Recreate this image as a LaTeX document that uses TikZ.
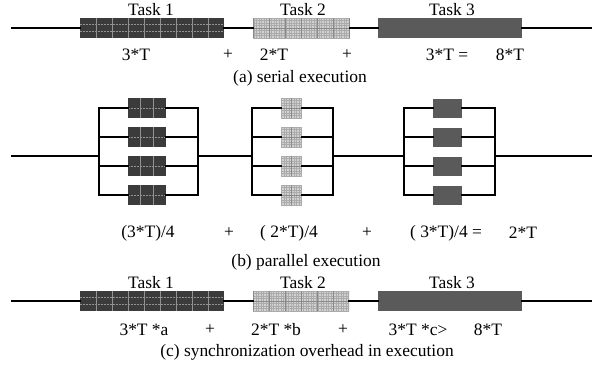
\documentclass[tikz,border=0pt]{standalone}
\usepackage{fontspec}
\setmainfont{Liberation Serif}
\usetikzlibrary{calc}

\definecolor{taskdark}{HTML}{3B3B3B}
\definecolor{gridlight}{HTML}{929292}
\definecolor{tasklight}{HTML}{D2D2D2}
\definecolor{finegrid}{HTML}{ABABAB}
\definecolor{taskmid}{HTML}{5A5A5A}

\tikzset{
  wire/.style={line width=2bp,line cap=rect,line join=miter},
  lbl/.style={inner sep=0pt,font=\fontsize{17.5}{20}\selectfont},
  taskbox/.style={inner sep=0pt,minimum height=20bp,draw=none},
  % dark box: #1 vertical and #2 horizontal dividers
  darkbox/.style 2 args={taskbox,fill=taskdark,path picture={
    \foreach \k in {1,...,#1}
      \draw[line width=0.6bp,gridlight]
        ($(path picture bounding box.north west)!{\k/(#1+1)}!(path picture bounding box.north east)$) --
        ($(path picture bounding box.south west)!{\k/(#1+1)}!(path picture bounding box.south east)$);
    \foreach \k in {1,...,#2}
      \draw[line width=0.5bp,gridlight,dash pattern=on 2bp off 1bp]
        ($(path picture bounding box.north west)!{\k/(#2+1)}!(path picture bounding box.south west)$) --
        ($(path picture bounding box.north east)!{\k/(#2+1)}!(path picture bounding box.south east)$);
  }},
  lightbox/.style={taskbox,fill=tasklight,path picture={
    \draw[line width=0.3bp,finegrid,step=2.5bp]
      (path picture bounding box.south west) grid (path picture bounding box.north east);
    \draw[line width=0.6bp,finegrid!80!black,xstep=16bp,ystep=200bp]
      (path picture bounding box.south west) grid (path picture bounding box.north east);
  }},
  midbox/.style={taskbox,fill=taskmid},
}

\begin{document}
\begin{tikzpicture}[x=1bp,y=-1bp]
  \useasboundingbox (0,0) rectangle (593,367);

  % --- (a) esecuzione seriale
  \coordinate (a0) at (12,28);
  \coordinate (a4) at (591,28);
  \node[darkbox={8}{2},minimum width=144bp] (a1) at (152,28) {};
  \node[lightbox,minimum width=97bp] (a2) at (301.5,28) {};
  \node[midbox,minimum width=144bp] (a3) at (450,28) {};
  \draw[wire] (a0) -- (a1) (a1) -- (a2) (a2) -- (a3) (a3) -- (a4);

  \node[lbl] (at1) at (151,10) {Task 1};
  \node[lbl] (at2) at (303,10) {Task 2};
  \node[lbl] (at3) at (452,10) {Task 3};

  \node[lbl] (ae1) at (136,55) {3*T};
  \node[lbl] (ap1) at (228,55) {+};
  \node[lbl] (ae2) at (274,55) {2*T};
  \node[lbl] (ap2) at (347,55) {+};
  \node[lbl] (ae3) at (447,55) {3*T =};
  \node[lbl] (asum) at (510,55) {8*T};
  \node[lbl] (acap) at (300,78) {(a) serial execution};

  % --- (b) esecuzione parallela: quattro rami per ogni task
  \coordinate (b0) at (12,156);
  \coordinate (b7) at (591,156);
  \foreach \g/\l/\c/\r in {1/99/147/198,2/252/291.5/333,3/404/447.5/495} {
    \coordinate (bl\g) at (\l,156);
    \coordinate (br\g) at (\r,156);
    \coordinate (lt\g) at (\l,108);
    \coordinate (lb\g) at (\l,195);
    \coordinate (rt\g) at (\r,108);
    \coordinate (rb\g) at (\r,195);
    \draw[wire] (lt\g) -- (lb\g) (rt\g) -- (rb\g);
  }
  \foreach \n/\y in {1/108,2/137,3/166,4/195} {
    \node[darkbox={2}{1},minimum width=38bp] (p1\n) at (147,\y) {};
    \node[lightbox,minimum width=21bp] (p2\n) at (291.5,\y) {};
    \node[midbox,minimum width=29bp,minimum height=19bp] (p3\n) at (447.5,\y) {};
    \draw[wire] (99,\y) coordinate (s1\n) -- (p1\n) -- (198,\y) coordinate (e1\n);
    \draw[wire] (252,\y) coordinate (s2\n) -- (p2\n) -- (333,\y) coordinate (e2\n);
    \draw[wire] (404,\y) coordinate (s3\n) -- (p3\n) -- (495,\y) coordinate (e3\n);
  }
  \draw[wire] (b0) -- (bl1) (br1) -- (bl2) (br2) -- (bl3) (br3) -- (b7);

  \node[lbl] (be1) at (148,233) {(3*T)/4};
  \node[lbl] (bp1) at (229,233) {+};
  \node[lbl] (be2) at (289,233) {( 2*T)/4};
  \node[lbl] (bp2) at (367,233) {+};
  \node[lbl] (be3) at (446,233) {( 3*T)/4 =};
  \node[lbl] (bsum) at (523,233) {2*T};
  \node[lbl] (bcap) at (306,262) {(b) parallel execution};

  % --- (c) esecuzione con overhead di sincronizzazione
  \coordinate (c0) at (12,301);
  \coordinate (c4) at (591,301);
  \node[darkbox={8}{2},minimum width=144bp] (c1) at (152,301) {};
  \node[lightbox,minimum width=96bp] (c2) at (301,301) {};
  \node[midbox,minimum width=144bp] (c3) at (450,301) {};
  \draw[wire] (c0) -- (c1) (c1) -- (c2) (c2) -- (c3) (c3) -- (c4);

  \node[lbl] (ct1) at (151,283) {Task 1};
  \node[lbl] (ct2) at (303,283) {Task 2};
  \node[lbl] (ct3) at (452,283) {Task 3};

  \node[lbl] (ce1) at (144,330) {3*T *a};
  \node[lbl] (cp1) at (210,330) {+};
  \node[lbl] (ce2) at (276,330) {2*T *b};
  \node[lbl] (cp2) at (343,330) {+};
  \node[lbl] (ce3) at (418,330) {3*T *c>};
  \node[lbl] (csum) at (488,330) {8*T};
  \node[lbl] (ccap) at (307,352) {(c) synchronization overhead in execution};
\end{tikzpicture}
\end{document}
